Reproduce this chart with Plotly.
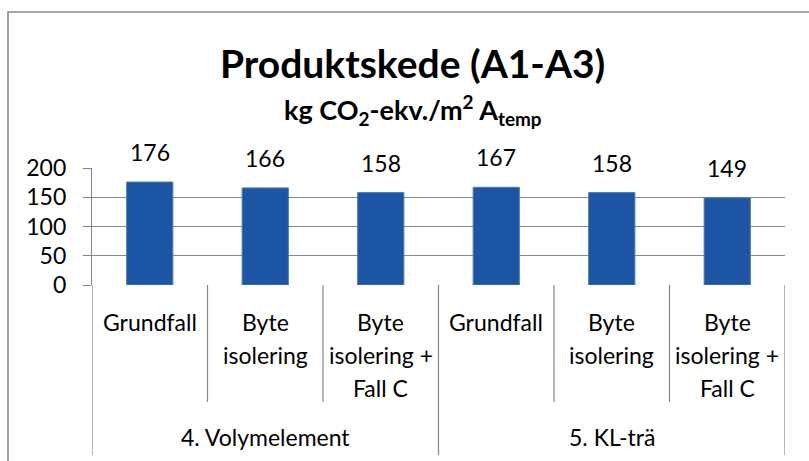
import plotly.graph_objects as go

# ---- data ----
groups = ["4. Volymelement", "5. KL-trä"]
categories = ["Grundfall", "Byte<br>isolering", "Byte<br>isolering +<br>Fall C",
              "Grundfall", "Byte<br>isolering", "Byte<br>isolering +<br>Fall C"]
group_of = [0, 0, 0, 1, 1, 1]
values = [176, 166, 158, 167, 158, 149]
y_ticks = [0, 50, 100, 150, 200]
title = "Produktskede (A1-A3)"
subtitle = "kg CO<sub>2</sub>-ekv./m<sup>2</sup> A<sub>temp</sub>"

# ---- layout constants ----
W, H = 809, 461
L, R, T, B = 92, 24, 168, 176
PW, PH = W - L - R, H - T - B
FONT = "Lato, Carlito, Calibri, sans-serif"
GRID = "#868686"
BAR = "#1D55A5"

def px_x(px):
    return (px - L) / PW

def px_y(py):
    return (H - B - py) / PH

x_idx = list(range(len(categories)))

fig = go.Figure(go.Bar(
    x=x_idx, y=values, width=0.4,
    marker=dict(color=BAR, line=dict(color="#4f78b8", width=1)),
    hoverinfo="skip",
))

annotations = []
# value labels
for i, v in zip(x_idx, values):
    annotations.append(dict(x=i, y=v, xref="x", yref="y", text=str(v), showarrow=False,
                            yshift=30, yanchor="middle",
                            font=dict(family=FONT, size=23, color="#000")))
# category labels (one annotation per line)
for i, c in zip(x_idx, categories):
    for k, line in enumerate(c.split("<br>")):
        annotations.append(dict(x=i, y=0, xref="x", yref="y", text=line, showarrow=False,
                                yshift=-(37 + 33 * k), yanchor="middle",
                                font=dict(family=FONT, size=23, color="#000")))
# group labels
for g, name in enumerate(groups):
    members = [i for i in x_idx if group_of[i] == g]
    xc = (members[0] + members[-1]) / 2
    annotations.append(dict(x=xc, y=0, xref="x", yref="y", text=name, showarrow=False,
                            yshift=-152, yanchor="middle",
                            font=dict(family=FONT, size=23, color="#000")))
# titles
annotations.append(dict(x=px_x(412), y=px_y(63), xref="paper", yref="paper", text="<b>" + title + "</b>",
                        showarrow=False, yanchor="middle",
                        font=dict(family=FONT, size=39, color="#000")))
annotations.append(dict(x=px_x(413), y=px_y(110), xref="paper", yref="paper", text="<b>" + subtitle + "</b>",
                        showarrow=False, yanchor="middle",
                        font=dict(family=FONT, size=27, color="#000")))

shapes = []
# chart border (extends beyond the visible window on right/bottom)
shapes.append(dict(type="rect", xref="paper", yref="paper",
                   x0=px_x(8), x1=px_x(830), y0=px_y(490), y1=px_y(12),
                   line=dict(color="#8a8a8a", width=1.6), fillcolor="rgba(0,0,0,0)", layer="above"))
# category dividers
for i in range(len(categories) + 1):
    xb = i - 0.5
    is_group_edge = i == 0 or i == len(categories) or group_of[i] != group_of[i - 1]
    shapes.append(dict(type="line", xref="x", yref="paper", x0=xb, x1=xb,
                       y0=0, y1=px_y(455) if is_group_edge else px_y(402),
                       line=dict(color=GRID, width=1.2)))

fig.update_layout(
    width=W, height=H,
    margin=dict(l=L, r=R, t=T, b=B),
    paper_bgcolor="white", plot_bgcolor="white",
    showlegend=False,
    annotations=annotations,
    shapes=shapes,
    xaxis=dict(range=[-0.5, len(categories) - 0.5], showticklabels=False, showgrid=False,
               zeroline=False, showline=False, fixedrange=True),
    yaxis=dict(range=[0, 200], tickvals=y_ticks, showgrid=True, gridcolor=GRID, gridwidth=1.2,
               zeroline=False, showline=True, linecolor=GRID, linewidth=1.2,
               ticks="outside", ticklen=8, tickcolor=GRID, tickwidth=1.2,
               ticklabelstandoff=12,
               tickfont=dict(family=FONT, size=23, color="#000"), fixedrange=True),
)

fig.write_html("out.html", config={"displayModeBar": False},
               post_script="document.body.style.margin='0';document.body.style.padding='0';")
